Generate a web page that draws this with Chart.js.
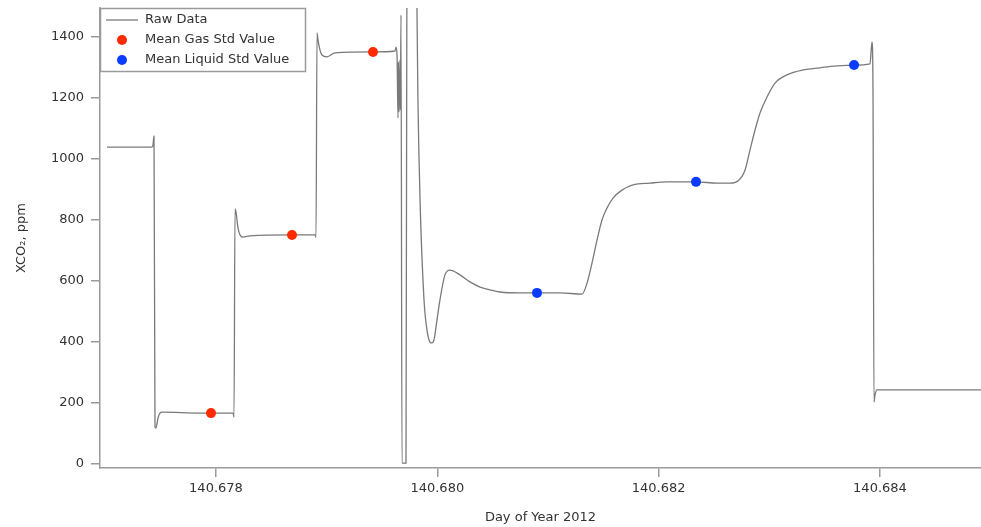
<!DOCTYPE html>
<html>
<head>
<meta charset="utf-8">
<script src="https://cdn.jsdelivr.net/npm/chart.js@4.4.1/dist/chart.umd.min.js"></script>
<style>
  html, body { margin: 0; padding: 0; background: #fff; }
  #wrap { width: 981px; height: 527px; }
</style>
</head>
<body>
<div id="wrap"><canvas id="c" width="981" height="527"></canvas></div>
<script>
// ---- data ----
const rawDays = [
  140.677015, 140.677422, 140.677431, 140.677440, 140.677449, 140.677458, 140.677476, 140.677494,
  140.677512, 140.677855, 140.678154, 140.678163, 140.678172, 140.678181, 140.678199, 140.678217,
  140.678244, 140.678307, 140.678687, 140.678895, 140.678904, 140.678913, 140.678922, 140.678940,
  140.678958, 140.679003, 140.679075, 140.679419, 140.679618, 140.679627, 140.679636, 140.679645,
  140.679649, 140.679654, 140.679663, 140.679666, 140.679672, 140.679681, 140.679717, 140.679726,
  140.679771, 140.679812, 140.679816, 140.679825, 140.679844, 140.679880, 140.679907, 140.679934,
  140.679952, 140.679970, 140.679997, 140.680024, 140.680069, 140.680115, 140.680205, 140.680295,
  140.680386, 140.680476, 140.680567, 140.680747, 140.681109, 140.681308, 140.681353, 140.681398,
  140.681443, 140.681488, 140.681533, 140.681588, 140.681669, 140.681768, 140.681922, 140.682076,
  140.682338, 140.682528, 140.682645, 140.682717, 140.682781, 140.682826, 140.682871, 140.682916,
  140.682979, 140.683052, 140.683160, 140.683305, 140.683458, 140.683612, 140.683766, 140.683910,
  140.683928, 140.683937, 140.683946, 140.683955, 140.683973, 140.684913
];
const rawXCO2 = [
  1039, 1039, 1046, 1075, 121, 118, 151, 167,
  170, 167, 167, 154, 836, 826, 774, 751,
  744, 748, 751, 751, 744, 1413, 1390, 1357,
  1341, 1335, 1348, 1351, 1354, 1367, 1341, 1135,
  1318, 1154, 1325, 1161, 1472, 3, 3, 1720,
  2150, 1720, 1495, 1194, 866, 538, 439, 400,
  397, 407, 472, 538, 620, 636, 620, 597,
  580, 571, 564, 561, 561, 557, 593, 659,
  734, 800, 839, 872, 898, 915, 921, 925,
  925, 921, 921, 928, 964, 1030, 1095, 1151,
  1203, 1249, 1276, 1292, 1299, 1305, 1308, 1312,
  1384, 1226, 203, 226, 243, 243
];
const gasDays = [140.677955, 140.678687, 140.679419];
const gasXCO2 = [167, 751, 1351];
const liqDays = [140.680901, 140.682338, 140.683766];
const liqXCO2 = [561, 925, 1308];
const xTickValues = [140.678, 140.680, 140.682, 140.684];
const yTickValues = [0, 200, 400, 600, 800, 1000, 1200, 1400];
const seriesNames = ['Raw Data', 'Mean Gas Std Value', 'Mean Liquid Std Value'];

// ---- styles ----
const FONT = 'DejaVu Sans';
const TXT = '#333333';
const AX = '#9a9a9a';
const LINE = '#7a7a7a';
const RED = '#ff2a00';
const BLUE = '#0a3cff';

const toPts = (xs, ys) => xs.map((x, i) => ({ x: x, y: ys[i] }));
const zeroPad = s => { s.paddingLeft = 0; s.paddingRight = 0; s.paddingTop = 0; s.paddingBottom = 0; };

const legendBox = {
  id: 'legendBox',
  afterDraw(chart) {
    const ctx = chart.ctx;
    const x0 = chart.chartArea.left, y0 = chart.chartArea.top;
    const w = 205, h = 63;
    ctx.save();
    ctx.fillStyle = '#fff';
    ctx.fillRect(x0, y0, w, h);
    ctx.strokeStyle = AX;
    ctx.lineWidth = 1.5;
    ctx.strokeRect(x0 + 0.5, y0 + 0.5, w, h);
    ctx.font = '13px "' + FONT + '"';
    ctx.fillStyle = TXT;
    ctx.textBaseline = 'middle';
    const rows = [y0 + 12, y0 + 32, y0 + 52];
    ctx.strokeStyle = LINE;
    ctx.lineWidth = 1.3;
    ctx.beginPath();
    ctx.moveTo(x0 + 6, rows[0]);
    ctx.lineTo(x0 + 38, rows[0]);
    ctx.stroke();
    ctx.fillStyle = RED;
    ctx.beginPath(); ctx.arc(x0 + 22, rows[1], 5, 0, Math.PI * 2); ctx.fill();
    ctx.fillStyle = BLUE;
    ctx.beginPath(); ctx.arc(x0 + 22, rows[2], 5, 0, Math.PI * 2); ctx.fill();
    ctx.fillStyle = TXT;
    seriesNames.forEach((n, i) => ctx.fillText(n, x0 + 45, rows[i]));
    ctx.restore();
  }
};

new Chart(document.getElementById('c'), {
  type: 'scatter',
  data: {
    datasets: [
      {
        label: seriesNames[1],
        data: toPts(gasDays, gasXCO2),
        backgroundColor: RED, borderColor: RED,
        pointRadius: 5, pointBorderWidth: 0, order: 0
      },
      {
        label: seriesNames[2],
        data: toPts(liqDays, liqXCO2),
        backgroundColor: BLUE, borderColor: BLUE,
        pointRadius: 5, pointBorderWidth: 0, order: 0
      },
      {
        label: seriesNames[0],
        data: toPts(rawDays, rawXCO2),
        showLine: true,
        borderColor: LINE, borderWidth: 1.3,
        pointRadius: 0, pointHoverRadius: 0,
        cubicInterpolationMode: 'monotone',
        order: 1
      }
    ]
  },
  options: {
    responsive: false,
    animation: false,
    devicePixelRatio: 1,
    layout: { autoPadding: false, padding: { top: 8, right: 0, left: 0, bottom: 0 } },
    plugins: { legend: { display: false }, tooltip: { enabled: false } },
    scales: {
      x: {
        type: 'linear',
        min: 140.676952, max: 140.684913,
        afterBuildTicks: s => { s.ticks = xTickValues.map(v => ({ value: v })); },
        afterFit: s => { s.height = 59; zeroPad(s); },
        ticks: {
          callback: v => Number(v).toFixed(3),
          font: { family: FONT, size: 13 }, color: TXT, padding: 4, maxRotation: 0
        },
        grid: { drawOnChartArea: false, drawTicks: true, tickLength: 9, color: AX, lineWidth: 1.5 },
        border: { display: true, color: AX, width: 1.5 },
        title: {
          display: true, text: 'Day of Year 2012',
          font: { family: FONT, size: 13 }, color: TXT, padding: { top: 0, bottom: 2 }
        }
      },
      y: {
        type: 'linear',
        min: -13, max: 1495,
        afterBuildTicks: s => { s.ticks = yTickValues.map(v => ({ value: v })); },
        afterFit: s => { s.width = 100; zeroPad(s); },
        ticks: {
          callback: v => String(v),
          font: { family: FONT, size: 13 }, color: TXT, padding: 7
        },
        grid: { drawOnChartArea: false, drawTicks: true, tickLength: 9, color: AX, lineWidth: 1.5 },
        border: { display: true, color: AX, width: 1.5 },
        title: {
          display: true, text: 'XCO₂, ppm',
          font: { family: FONT, size: 13 }, color: TXT, padding: { top: 14, bottom: 0 }
        }
      }
    }
  },
  plugins: [legendBox]
});
</script>
</body>
</html>
